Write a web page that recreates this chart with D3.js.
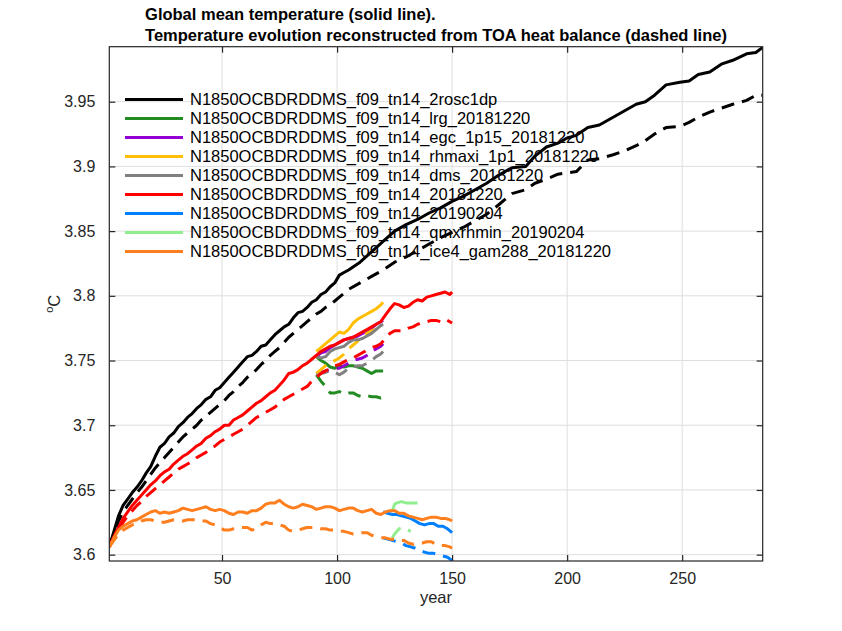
<!DOCTYPE html>
<html>
<head>
<meta charset="utf-8">
<script src="https://cdn.jsdelivr.net/npm/d3@7"></script>
<style>
  html, body { margin: 0; padding: 0; background: #fff; }
  svg { display: block; font-family: "Liberation Sans", Arial, Helvetica, sans-serif; }
</style>
</head>
<body>
<svg id="chart" width="842" height="631"></svg>
<script>
// ---- data -----------------------------------------------------------------
const titleLines = [
  "Global mean temperature (solid line).",
  "Temperature evolution reconstructed from TOA heat balance (dashed line)"
];
const xTicks = [50, 100, 150, 200, 250];
const yTicks = [3.6, 3.65, 3.7, 3.75, 3.8, 3.85, 3.9, 3.95];
const yTickLabels = ["3.6", "3.65", "3.7", "3.75", "3.8", "3.85", "3.9", "3.95"];
const xLimits = [1, 285];
const yLimits = [3.5951, 3.9925];

const runNames = [
  "N1850OCBDRDDMS_f09_tn14_2rosc1dp",
  "N1850OCBDRDDMS_f09_tn14_lrg_20181220",
  "N1850OCBDRDDMS_f09_tn14_egc_1p15_20181220",
  "N1850OCBDRDDMS_f09_tn14_rhmaxi_1p1_20181220",
  "N1850OCBDRDDMS_f09_tn14_dms_20181220",
  "N1850OCBDRDDMS_f09_tn14_20181220",
  "N1850OCBDRDDMS_f09_tn14_20190204",
  "N1850OCBDRDDMS_f09_tn14_qmxrhmin_20190204",
  "N1850OCBDRDDMS_f09_tn14_ice4_gam288_20181220"
];
const runColors = ["#000000", "#228b22", "#9400d3", "#ffbf00", "#808080",
                   "#ff0000", "#0080ff", "#90ee90", "#ff7f1e"];

// 2rosc1dp
const roscYears = [1,3,5,7,9,11,13,15,17,19,21,23,25,27,29,31,33,35,37,39,41,43,45,47,49,51,53,55,57,59,
  61,63,65,67,69,71,73,75,77,79,81,83,85,87,89,91,93,95,97,99,101,103,105,110,115,120,125,130,135,140,
  145,150,155,160,165,170,176,182,186,191,196,200,204,209,214,220,225,230,234,238,243,249,253,257,262,
  267,272,278,282,285];
const roscTemp = [3.606,3.618,3.630,3.638,3.643,3.648,3.652,3.657,3.663,3.668,3.676,3.683,3.686,3.691,3.694,
  3.699,3.702,3.706,3.709,3.713,3.716,3.720,3.722,3.727,3.729,3.733,3.737,3.741,3.745,3.749,3.753,3.754,
  3.757,3.761,3.762,3.766,3.770,3.773,3.776,3.778,3.783,3.787,3.788,3.791,3.795,3.797,3.801,3.803,3.807,
  3.810,3.816,3.818,3.820,3.826,3.834,3.842,3.850,3.855,3.859,3.864,3.868,3.873,3.877,3.882,3.887,3.893,
  3.899,3.900,3.908,3.915,3.918,3.922,3.924,3.930,3.932,3.938,3.943,3.948,3.950,3.955,3.963,3.965,3.966,
  3.971,3.973,3.979,3.982,3.987,3.988,3.992];
const roscToa = [3.606,3.616,3.626,3.633,3.638,3.643,3.648,3.652,3.657,3.662,3.667,3.671,3.675,3.679,3.683,
  3.687,3.691,3.694,3.697,3.700,3.704,3.707,3.710,3.713,3.716,3.719,3.723,3.726,3.730,3.733,3.737,3.740,
  3.743,3.747,3.750,3.754,3.757,3.760,3.764,3.768,3.771,3.774,3.777,3.780,3.783,3.786,3.788,3.791,3.793,
  3.796,3.799,3.802,3.805,3.810,3.815,3.820,3.826,3.830,3.835,3.840,3.845,3.849,3.853,3.858,3.863,3.870,
  3.879,3.882,3.887,3.890,3.894,3.895,3.896,3.905,3.906,3.909,3.912,3.916,3.920,3.925,3.930,3.931,3.934,
  3.938,3.942,3.945,3.948,3.951,3.955,3.955];

// 20181220 and ice4_gam288_20181220 (years 1-150)
const ctrlYears = [1,3,5,7,9,11,13,15,17,19,21,23,25,27,29,31,33,35,37,39,41,43,45,47,49,51,53,55,57,59,
  61,63,65,67,69,71,73,75,77,79,81,83,85,87,89,91,93,95,97,99,101,103,105,107,109,111,113,115,117,119,
  121,123,125,127,129,131,133,135,137,139,141,143,145,147,149,150];
const ctrlTemp = [3.606,3.614,3.621,3.628,3.633,3.638,3.642,3.646,3.650,3.654,3.657,3.661,3.664,3.666,3.670,
  3.673,3.676,3.678,3.681,3.684,3.686,3.690,3.692,3.695,3.697,3.700,3.700,3.704,3.706,3.708,3.711,3.714,
  3.717,3.719,3.722,3.725,3.727,3.731,3.735,3.740,3.741,3.743,3.746,3.748,3.751,3.754,3.757,3.759,3.761,
  3.762,3.764,3.766,3.767,3.768,3.770,3.772,3.774,3.776,3.778,3.780,3.785,3.790,3.794,3.793,3.791,3.792,
  3.795,3.797,3.796,3.799,3.800,3.801,3.802,3.803,3.801,3.803];
const ctrlToa = [3.606,3.613,3.619,3.625,3.630,3.634,3.638,3.641,3.645,3.648,3.651,3.654,3.657,3.660,3.663,
  3.666,3.668,3.670,3.672,3.675,3.677,3.679,3.682,3.684,3.687,3.689,3.691,3.693,3.695,3.697,3.700,3.703,
  3.706,3.708,3.710,3.712,3.714,3.717,3.720,3.722,3.724,3.726,3.728,3.730,3.734,3.737,3.740,3.742,3.744,
  3.746,3.747,3.749,3.751,3.752,3.754,3.756,3.758,3.760,3.761,3.763,3.767,3.771,3.773,3.773,3.773,3.775,
  3.776,3.778,3.779,3.780,3.781,3.781,3.780,3.782,3.780,3.779];
const ice4Temp = [3.606,3.613,3.619,3.622,3.624,3.626,3.627,3.629,3.631,3.633,3.634,3.632,3.633,3.632,3.633,
  3.634,3.636,3.635,3.634,3.635,3.636,3.637,3.635,3.634,3.635,3.634,3.632,3.631,3.633,3.633,3.632,3.634,
  3.634,3.636,3.639,3.640,3.640,3.642,3.639,3.637,3.636,3.637,3.639,3.638,3.637,3.635,3.636,3.637,3.637,
  3.636,3.634,3.635,3.636,3.636,3.634,3.633,3.634,3.635,3.632,3.631,3.633,3.634,3.634,3.632,3.632,3.630,
  3.629,3.628,3.627,3.628,3.629,3.629,3.628,3.628,3.627,3.626];
const ice4Toa = [3.606,3.611,3.616,3.619,3.621,3.623,3.624,3.626,3.627,3.627,3.626,3.625,3.625,3.626,3.627,
  3.627,3.626,3.627,3.627,3.627,3.626,3.626,3.624,3.623,3.621,3.619,3.619,3.620,3.621,3.621,3.621,3.619,
  3.620,3.623,3.625,3.624,3.624,3.623,3.622,3.619,3.618,3.619,3.620,3.621,3.621,3.621,3.620,3.620,3.619,
  3.619,3.618,3.618,3.617,3.616,3.616,3.617,3.617,3.615,3.614,3.613,3.613,3.612,3.612,3.611,3.611,3.609,
  3.608,3.609,3.609,3.610,3.610,3.608,3.607,3.607,3.606,3.605];

// branches started from 20181220 at year 91
const branchYears = [91,93,95,97,99,101,103,105,107,109,111,113,115,117,119,120];
const lrgTemp  = [3.753,3.750,3.748,3.745,3.744,3.746,3.745,3.746,3.746,3.745,3.744,3.742,3.740,3.742,3.742,3.742];
const lrgToa   = [3.739,3.734,3.730,3.725,3.725,3.726,3.724,3.725,3.725,3.723,3.722,3.723,3.722,3.722,3.721,3.722];
const egcTemp  = [3.753,3.756,3.757,3.760,3.762,3.764,3.766,3.767,3.768,3.769,3.771,3.772,3.775,3.778,3.780,3.781];
const egcToa   = [3.740,3.741,3.742,3.743,3.744,3.744,3.746,3.748,3.750,3.751,3.752,3.754,3.757,3.759,3.761,3.763];
const rhmTemp  = [3.757,3.760,3.763,3.766,3.769,3.772,3.771,3.774,3.779,3.782,3.784,3.786,3.788,3.790,3.793,3.795];
const rhmToa   = [3.740,3.743,3.746,3.748,3.750,3.752,3.755,3.759,3.762,3.765,3.769,3.771,3.773,3.774,3.776,3.777];
const dmsTemp  = [3.753,3.752,3.753,3.757,3.759,3.760,3.761,3.764,3.766,3.766,3.767,3.769,3.771,3.774,3.777,3.778];
const dmsToa   = [3.738,3.740,3.741,3.742,3.741,3.739,3.741,3.744,3.745,3.746,3.746,3.748,3.750,3.753,3.755,3.757];

// 20190204 branch (years 120-150) and qmxrhmin_20190204
const febYears = [120,122,124,126,128,130,132,134,136,138,140,142,144,146,148,150];
const febTemp  = [3.633,3.632,3.631,3.631,3.630,3.629,3.628,3.626,3.624,3.623,3.624,3.624,3.622,3.622,3.620,3.617];
const febToa   = [3.613,3.612,3.611,3.610,3.609,3.607,3.606,3.605,3.603,3.602,3.601,3.601,3.600,3.599,3.598,3.5955];
const qmxYears = [124,125,126,128,130,132,134,135];
const qmxTemp  = [3.634,3.639,3.640,3.641,3.640,3.640,3.640,3.640];
const qmxToaYears = [124,125,127,129,131,132];
const qmxToa   = [3.613,3.616,3.620,3.621,3.619,3.618];

// ---- assemble runs (legend order = drawing order) ---------------------------
const runs = [
  { years: roscYears,   temp: roscTemp, toaYears: roscYears,   toa: roscToa },
  { years: branchYears, temp: lrgTemp,  toaYears: branchYears, toa: lrgToa },
  { years: branchYears, temp: egcTemp,  toaYears: branchYears, toa: egcToa },
  { years: branchYears, temp: rhmTemp,  toaYears: branchYears, toa: rhmToa },
  { years: branchYears, temp: dmsTemp,  toaYears: branchYears, toa: dmsToa },
  { years: ctrlYears,   temp: ctrlTemp, toaYears: ctrlYears,   toa: ctrlToa },
  { years: febYears,    temp: febTemp,  toaYears: febYears,    toa: febToa },
  { years: qmxYears,    temp: qmxTemp,  toaYears: qmxToaYears, toa: qmxToa },
  { years: ctrlYears,   temp: ice4Temp, toaYears: ctrlYears,   toa: ice4Toa }
].map((r, i) => ({ ...r, name: runNames[i], color: runColors[i] }));

// ---- layout ---------------------------------------------------------------
const svg = d3.select("#chart");
const plot = { left: 109.3, top: 46.7, right: 762.7, bottom: 561 };

const x = d3.scaleLinear().domain(xLimits).range([plot.left, plot.right]);
const y = d3.scaleLinear().domain(yLimits).range([plot.bottom, plot.top]);

svg.append("defs").append("clipPath").attr("id", "plot-clip")
  .append("rect")
  .attr("x", plot.left).attr("y", plot.top)
  .attr("width", plot.right - plot.left).attr("height", plot.bottom - plot.top);

// grid
const grid = svg.append("g").attr("stroke", "#dedede").attr("stroke-width", 1);
grid.selectAll("line.gx").data(xTicks).join("line")
  .attr("x1", d => x(d)).attr("x2", d => x(d))
  .attr("y1", plot.top).attr("y2", plot.bottom);
grid.selectAll("line.gy").data(yTicks).join("line")
  .attr("x1", plot.left).attr("x2", plot.right)
  .attr("y1", d => y(d)).attr("y2", d => y(d));

// series
const lines = svg.append("g").attr("clip-path", "url(#plot-clip)")
  .attr("fill", "none").attr("stroke-width", 3)
  .attr("stroke-linejoin", "round").attr("stroke-linecap", "butt");

runs.forEach(r => {
  const solid = d3.line().x((d, i) => x(r.years[i])).y(d => y(d));
  const dashed = d3.line().x((d, i) => x(r.toaYears[i])).y(d => y(d));
  lines.append("path").attr("d", solid(r.temp)).attr("stroke", r.color);
  lines.append("path").attr("d", dashed(r.toa)).attr("stroke", r.color)
    .attr("stroke-dasharray", "13,8");
});

// axes: bottom/left with labels, top/right with ticks only, all ticks pointing inward
const tickLen = 6;
const axisColor = "#262626";
const fontSize = 16;

const xAxisBottom = d3.axisBottom(x).tickValues(xTicks).tickSize(-tickLen).tickPadding(12);
const xAxisTop = d3.axisTop(x).tickValues(xTicks).tickSize(-tickLen).tickFormat("");
const yAxisLeft = d3.axisLeft(y).tickValues(yTicks).tickSize(-tickLen).tickPadding(14)
  .tickFormat((d, i) => yTickLabels[i]);
const yAxisRight = d3.axisRight(y).tickValues(yTicks).tickSize(-tickLen).tickFormat("");

function styleAxis(g) {
  g.selectAll("path.domain").attr("stroke", axisColor).attr("stroke-width", 1.2);
  g.selectAll(".tick line").attr("stroke", axisColor).attr("stroke-width", 1.2);
  g.selectAll(".tick text").attr("fill", axisColor)
    .style("font-size", fontSize + "px")
    .style("font-family", "'Liberation Sans', Arial, Helvetica, sans-serif");
}

svg.append("g").attr("transform", `translate(0,${plot.bottom})`).call(xAxisBottom).call(styleAxis);
svg.append("g").attr("transform", `translate(0,${plot.top})`).call(xAxisTop).call(styleAxis);
svg.append("g").attr("transform", `translate(${plot.left},0)`).call(yAxisLeft).call(styleAxis);
svg.append("g").attr("transform", `translate(${plot.right},0)`).call(yAxisRight).call(styleAxis);

// d3 axis paths include outer ticks; draw the box explicitly so its edges are clean
svg.selectAll("path.domain").remove();
svg.append("rect")
  .attr("x", plot.left).attr("y", plot.top)
  .attr("width", plot.right - plot.left).attr("height", plot.bottom - plot.top)
  .attr("fill", "none").attr("stroke", axisColor).attr("stroke-width", 1.2);

// axis labels
const cx = (plot.left + plot.right) / 2;
svg.append("text").attr("x", cx).attr("y", 603)
  .attr("text-anchor", "middle").attr("fill", axisColor)
  .style("font-size", "16.5px").text("year");

const yLab = svg.append("text")
  .attr("transform", `translate(58,${(plot.top + plot.bottom) / 2}) rotate(-90)`)
  .attr("text-anchor", "middle").attr("fill", axisColor)
  .style("font-size", "16.5px");
yLab.append("tspan").attr("dy", "-0.45em").style("font-size", "11px").text("o");
yLab.append("tspan").attr("dy", "0.45em").text("C");

// title: two bold lines, left-aligned as a block centred over the axes
const title = svg.append("g");
const t1 = title.append("text").attr("y", 20).text(titleLines[0]);
const t2 = title.append("text").attr("y", 41).text(titleLines[1]);
title.selectAll("text").attr("fill", "#000").attr("font-weight", "bold").style("font-size", "16.5px");
const blockW = Math.max(t1.node().getComputedTextLength(), t2.node().getComputedTextLength());
title.selectAll("text").attr("x", cx - blockW / 2);

// legend
const legend = svg.append("g").attr("transform", "translate(125,99.5)");
const rowH = 19;
runs.forEach((r, i) => {
  const row = legend.append("g").attr("transform", `translate(0,${i * rowH})`);
  row.append("line").attr("x1", 0).attr("x2", 58).attr("y1", 0).attr("y2", 0)
    .attr("stroke", r.color).attr("stroke-width", 3);
  row.append("text").attr("x", 65).attr("y", 0).attr("dy", "0.35em")
    .attr("fill", "#000").style("font-size", "16.5px").text(r.name);
});
</script>
</body>
</html>
